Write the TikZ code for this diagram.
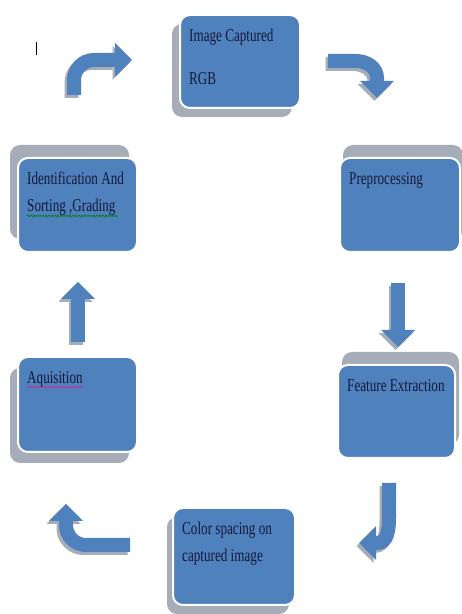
\documentclass[tikz,border=0pt]{standalone}
\usepackage{fontspec}
\newfontfamily\boxfont[FakeStretch=0.73]{Liberation Serif}
\usetikzlibrary{arrows.meta,shadows,decorations.pathmorphing}
\definecolor{boxblue}{HTML}{4F81BD}
\definecolor{shadowgrey}{HTML}{A7ADB8}
\definecolor{inktext}{HTML}{17183A}
\newcommand{\flowarrow}[1]{%
  \draw[arrowbody, shadowgrey, xshift=-2.5pt, yshift=-3pt] #1;
  \draw[arrowbody] #1;}

\begin{document}
\begin{tikzpicture}[x=1pt, y=1pt,
    stage/.style={draw=white, line width=2pt, fill=boxblue, rounded corners=10pt, inner sep=0pt},
    stagetext/.style={anchor=north west, align=left, inner sep=0pt, text=inktext, font=\fontsize{18}{27}\selectfont\boxfont},
    arrowbody/.style={boxblue, line width=14pt, -{Triangle[width=34pt, length=17pt, line width=0pt]}},
    squiggle/.style={line width=0.6pt, decorate, decoration={snake, amplitude=0.9pt, segment length=3pt}}]
  \useasboundingbox (0,0) rectangle (462,614);
  % stages, clockwise from the top
  \foreach \n/\x/\y/\w/\h/\sx/\sy/\t in {capt/240/552.5/120/93/-8/-9/{Image Captured\\[16pt]RGB},
      prep/400/409/120/94/3/13/{Preprocessing},
      feat/396.5/202.5/117/93/4/13/{Feature Extraction},
      colsp/234/57.5/122/97/-6/-9/{Color spacing on\\captured image},
      aqui/77.5/209.5/119/95/-8/-11/{Aquisition},
      ident/77.5/409/119/94/-8/13/{Identification And\\Sorting ,Grading}}{
    \node[stage, minimum width=\w pt, minimum height=\h pt,
      drop shadow={shadow xshift=\sx pt, shadow yshift=\sy pt, fill=shadowgrey, opacity=1}] (\n) at (\x,\y) {};
    \node[stagetext] (\n-t) at ([xshift=10pt, yshift=-15pt]\n.north west) {\t};
  }
  % arrows between stages
  \flowarrow{(74,519) -- (74,534) to[out=90,in=180] (94,554) -- (132,554)}
  \flowarrow{(328,553) -- (356,553) to[out=0,in=90] (377,536) -- (377,516)}
  \flowarrow{(398,331) -- (398,267)}
  \flowarrow{(389,131) -- (389,96) to[out=270,in=0] (377,71) -- (359,71)}
  \flowarrow{(130,69) -- (86,69) to[out=180,in=270] (66,89) -- (66,110)}
  \flowarrow{(78,272) -- (78,332)}
  % spell-check marks and cursor
  \draw[squiggle, green!50!black] ([yshift=-4pt]ident-t.base west) -- ++(91,0);
  \draw[squiggle, magenta!80!black] ([yshift=-4pt]aqui-t.base west) -- ++(57,0);
  \draw[line width=1pt] (36,572) -- (36,559);
\end{tikzpicture}
\end{document}
